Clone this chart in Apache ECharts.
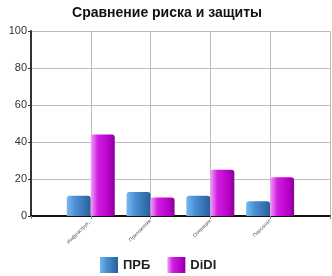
<!DOCTYPE html>
<html><head><meta charset="utf-8">
<script src="https://cdn.jsdelivr.net/npm/echarts@6/dist/echarts.min.js"></script>
<style>html,body{margin:0;padding:0;background:#fff}#c{width:332px;height:276px}</style>
</head><body><div id="c"></div>
<script>
var categories = ['Инфраструк...', 'Приложения', 'Операции', 'Персонал'];
var seriesNames = ['ПРБ', 'DiDI'];
var prbValues = [11, 13, 11, 8];
var didiValues = [44, 10, 25, 21];
var yTicks = [0, 20, 40, 60, 80, 100];

function pad(a){ return [null].concat(a).concat([null]); }
var chart = echarts.init(document.getElementById('c'));
var blueGrad = new echarts.graphic.LinearGradient(0,0,1,0,[
  {offset:0,color:'#7ab8ee'},{offset:0.35,color:'#4a90d6'},{offset:1,color:'#2a5f98'}]);
var magGrad = new echarts.graphic.LinearGradient(0,0,1,0,[
  {offset:0,color:'#f2a0f8'},{offset:0.3,color:'#d01ee0'},{offset:0.75,color:'#b800c8'},{offset:1,color:'#8a0098'}]);
chart.setOption({
  animation:false,
  title:{text:'Сравнение риска и защиты',left:162,textAlign:'center',top:1,
    textStyle:{fontFamily:'Liberation Sans, Arial',fontWeight:'bold',fontSize:14,color:'#111'}},
  grid:{left:31,right:1,top:31,bottom:60,containLabel:false},
  legend:{left:95,top:252,itemWidth:18,itemHeight:16,itemGap:17,icon:'rect',
    data:seriesNames,
    textStyle:{fontFamily:'Liberation Sans, Arial',fontWeight:'bold',fontSize:13,color:'#222',padding:[0,12,0,0]}},
  xAxis:{type:'category',boundaryGap:false,data:[''].concat(categories).concat(['']),
    axisLine:{lineStyle:{color:'#111',width:2}},
    axisTick:{show:true,length:3,lineStyle:{color:'#888'}},
    splitLine:{show:true,lineStyle:{color:'#bdbdbd',width:1}},
    axisLabel:{rotate:45,fontSize:5,color:'#555',margin:4,fontFamily:'Liberation Sans, Arial',interval:0}},
  yAxis:{type:'value',min:0,max:100,interval:20,
    axisLine:{show:true,lineStyle:{color:'#333',width:2}},
    axisTick:{show:true,length:3,lineStyle:{color:'#333'}},
    splitLine:{show:true,lineStyle:{color:'#bdbdbd',width:1}},
    axisLabel:{fontSize:11,color:'#333',margin:4,fontFamily:'Liberation Sans, Arial',
      formatter:function(v){return yTicks.indexOf(v)>=0?String(v):'';}}},
  series:[
    {name:seriesNames[0],type:'bar',data:pad(prbValues),barWidth:24,barGap:'0%',
      itemStyle:{color:blueGrad,borderRadius:[3,3,0,0]}},
    {name:seriesNames[1],type:'bar',data:pad(didiValues),barWidth:24,barGap:'0%',
      itemStyle:{color:magGrad,borderRadius:[3,3,0,0]}}
  ]
});
</script></body></html>
